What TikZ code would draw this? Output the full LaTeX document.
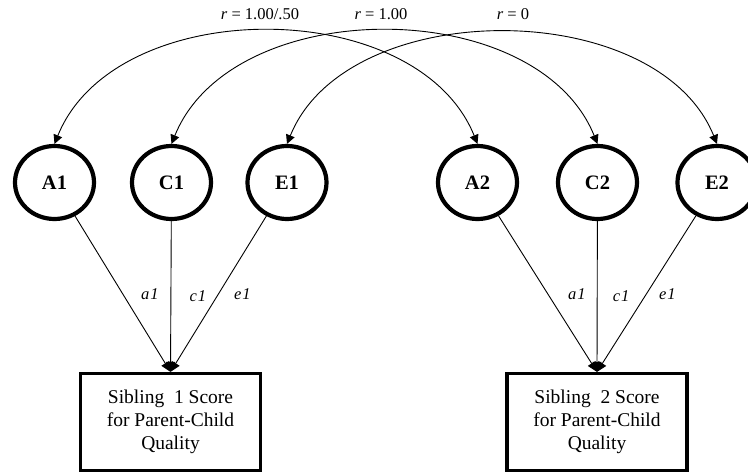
\documentclass[tikz,border=0pt]{standalone}
\usepackage{fontspec}
\setmainfont{Liberation Serif}
\usetikzlibrary{shapes.geometric,arrows.meta}
\tikzset{
  lat/.style={ellipse,draw,line width=4.2pt,minimum width=79pt,minimum height=73pt,inner sep=0pt,
    font=\bfseries\fontsize{20.5}{24}\selectfont},
  obs/.style={rectangle,draw,line width=3.2pt,minimum width=180pt,minimum height=97pt,inner sep=0pt,
    align=center,font=\fontsize{19.5}{23}\selectfont},
  cov/.style={line width=0.9pt,{Triangle[length=9pt,width=9pt]}-{Triangle[length=9pt,width=9pt]}},
  load/.style={line width=0.9pt,-{Triangle[length=10pt,width=9pt]}},
  lab/.style={font=\itshape\fontsize{16.5}{19}\selectfont,inner sep=1pt},
  rlab/.style={font=\fontsize{16.5}{19}\selectfont,inner sep=1pt}
}
\begin{document}
\begin{tikzpicture}[x=1pt,y=1pt]
\useasboundingbox (0,0) rectangle (748,472);
% latent variables
\node[lat] (A1) at (54.5,289.5) {A1};
\node[lat] (C1) at (171.5,289.5) {C1};
\node[lat] (E1) at (287,289.5) {E1};
\node[lat] (A2) at (477.5,289.5) {A2};
\node[lat] (C2) at (597.5,289.5) {C2};
\node[lat] (E2) at (717,289.5) {E2};
% observed
\node[obs] (S1) at (170.5,50) {Sibling\ \ 1 Score\\for Parent-Child\\Quality};
\node[obs] (S2) at (597,50) {Sibling\ \ 2 Score\\for Parent-Child\\Quality};
% covariances
\draw[cov] (A1.north) to[out=68,in=112,distance=162pt] (A2.north);
\draw[cov] (C1.north) to[out=68,in=112,distance=162pt] (C2.north);
\draw[cov] (E1.north) to[out=68,in=112,distance=160pt] (E2.north);
\node[rlab] (r1) at (260,458) {\textit{r} = 1.00/.50};
\node[rlab] (r2) at (381,458) {\textit{r} = 1.00};
\node[rlab] (r3) at (513,458) {\textit{r} = 0};
% loadings
\draw[load] (A1) -- (S1.north) node[lab,pos=0.5,xshift=27pt] {a\kern1pt1};
\draw[load] (C1) -- (S1.north) node[lab,pos=0.5,xshift=27pt] {c\kern1pt1};
\draw[load] (E1) -- (S1.north) node[lab,pos=0.5,xshift=24pt] {e\kern1pt1};
\draw[load] (A2) -- (S2.north) node[lab,pos=0.5,xshift=29pt] {a\kern1pt1};
\draw[load] (C2) -- (S2.north) node[lab,pos=0.5,xshift=24pt] {c\kern1pt1};
\draw[load] (E2) -- (S2.north) node[lab,pos=0.5,xshift=21pt] {e\kern1pt1};
\end{tikzpicture}
\end{document}
